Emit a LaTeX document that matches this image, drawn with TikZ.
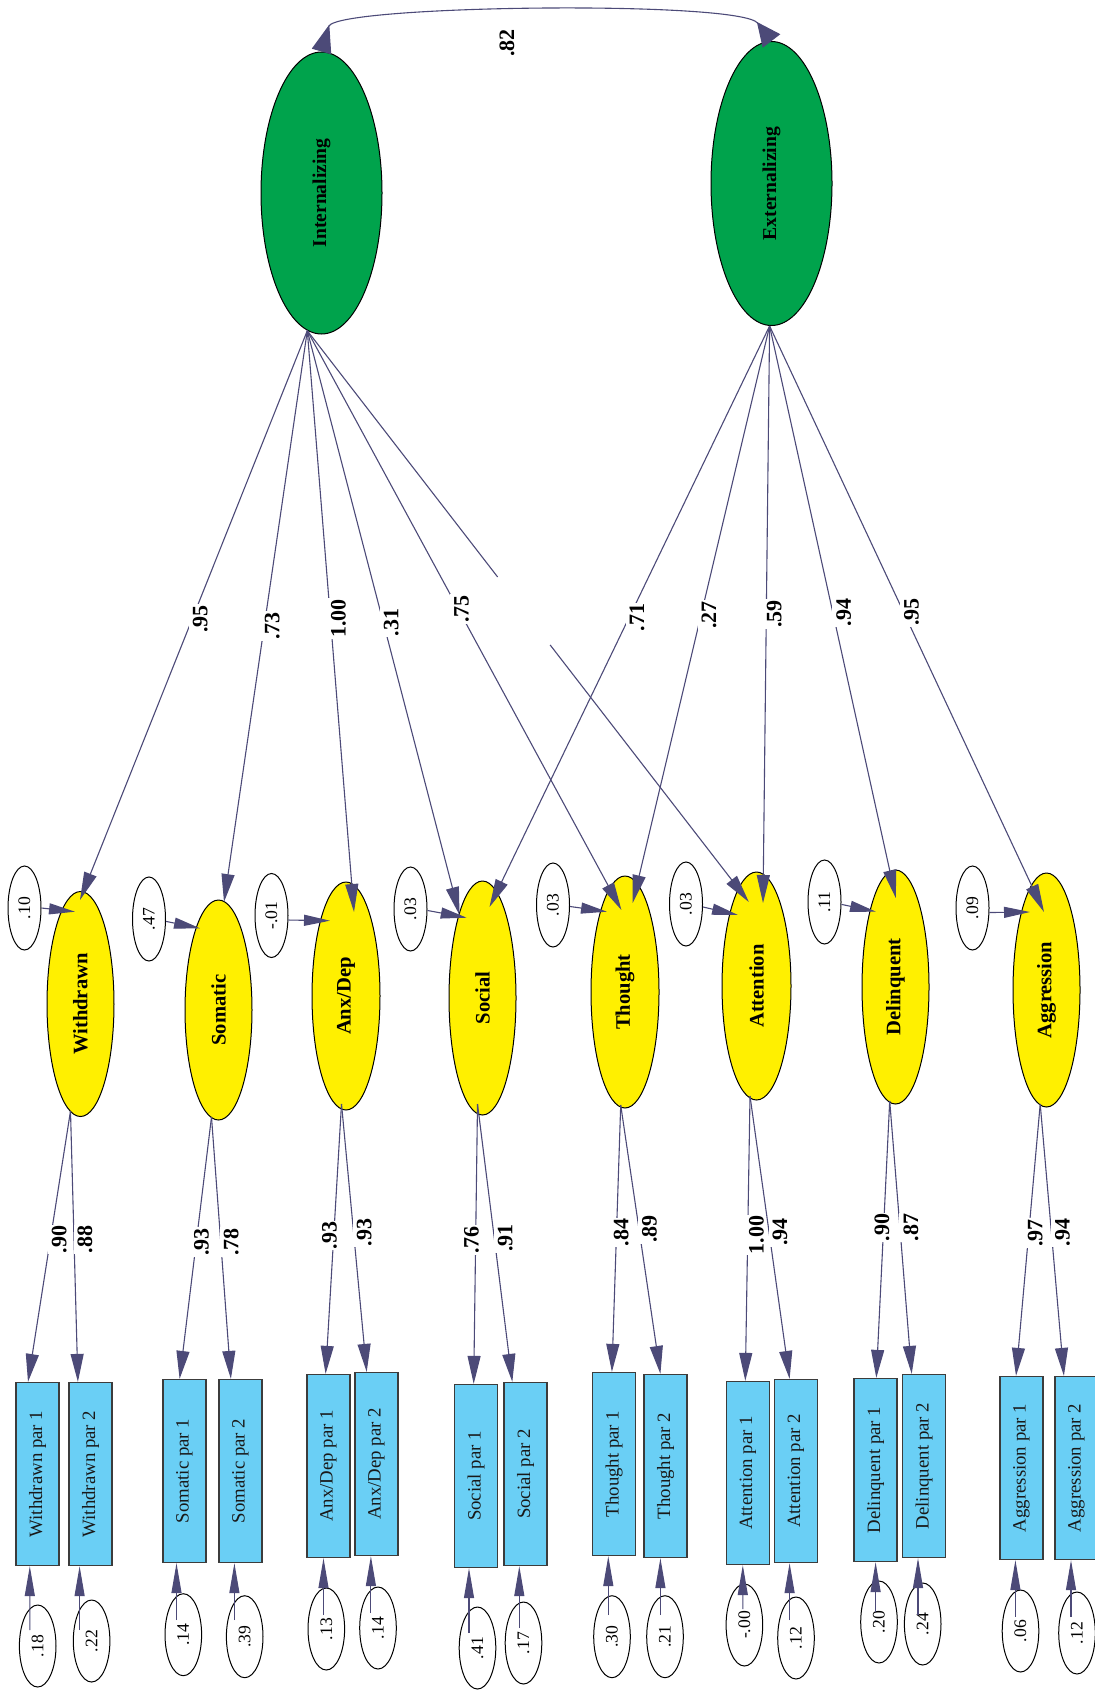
\documentclass[tikz,border=0pt]{standalone}
\usepackage{fontspec}
\setmainfont{Liberation Serif}
\usepackage{graphicx}
\usetikzlibrary{arrows.meta,calc,shapes.geometric}
\definecolor{grn}{RGB}{0,163,76}
\definecolor{yel}{RGB}{255,240,0}
\definecolor{cyn}{RGB}{106,207,245}
\definecolor{arrC}{RGB}{76,74,120}
\definecolor{boxC}{RGB}{60,60,60}
\newcommand{\vt}[1]{\rotatebox{90}{#1}}
\begin{document}
\begin{tikzpicture}[x=0.5pt,y=-0.5pt,
  line/.style={draw=arrC, line width=0.55pt},
  arr/.style={line, -{Triangle[length=14pt,width=6.5pt]}},
  harr/.style={line, -{Triangle[length=13pt,width=5.5pt]}},
  barr/.style={line, -{Triangle[length=15pt,width=5pt]}},
  covtip/.style={line, {Triangle[reversed,length=14pt,width=10pt]}-{Triangle[reversed,length=12pt,width=11pt]}},
  second/.style={ellipse, draw=black, line width=0.5pt, fill=grn, minimum width=60.5pt, inner sep=0pt, font=\fontsize{9.8}{10}\selectfont\bfseries},
  first/.style={ellipse, draw=black, line width=0.5pt, fill=yel, minimum width=33.5pt, inner sep=0pt, font=\fontsize{10.3}{11}\selectfont\bfseries},
  err/.style={ellipse, draw=black, line width=0.5pt, fill=white, minimum width=16.5pt, minimum height=42pt, inner sep=0pt, font=\fontsize{8.8}{9}\selectfont},
  berr/.style={err, minimum width=18.3pt, minimum height=41pt},
  obs/.style={rectangle, draw=boxC, line width=0.6pt, fill=cyn, minimum width=21.5pt, minimum height=91.5pt, inner sep=0pt, font=\fontsize{9.4}{10}\selectfont, text=black!90},
  lbl/.style={fill=white, inner xsep=2pt, inner ysep=0.5pt, anchor=west, xshift=#1, font=\fontsize{11}{11}\selectfont\bfseries},
  lbl/.default=-2pt,
]
\useasboundingbox (0,0) rectangle (1095,1690);

% second-order factors
\node[second, minimum height=141pt] (int) at (321.5,193) {\vt{Internalizing}};
\node[second, minimum height=142pt] (ext) at (771.5,183.5) {\vt{Externalizing}};

% first-order factors
\node[first, minimum height=112.5pt] (wd) at (80.5,1004) {\vt{Withdrawn}};
\node[first, minimum height=110pt] (som) at (218.5,1010) {\vt{Somatic}};
\node[first, minimum height=114pt, minimum width=34pt] (anx) at (346,996) {\vt{Anx/Dep}};
\node[first, minimum height=117pt] (soc) at (482.5,998) {\vt{Social}};
\node[first, minimum height=116pt, minimum width=34pt] (th) at (625,992) {\vt{Thought}};
\node[first, minimum height=114pt, minimum width=34.5pt] (att) at (756.5,986) {\vt{Attention}};
\node[first, minimum height=117pt] (del) at (895.5,987) {\vt{Delinquent}};
\node[first, minimum height=117pt] (agg) at (1046.5,990) {\vt{Aggression}};

% disturbances
\node[err] (d1) at (24.5,908) {\vt{.10}};
\node[err] (d2) at (149,919) {\vt{.47}};
\node[err] (d3) at (271.5,915.5) {\vt{-.01}};
\node[err] (d4) at (410.5,909) {\vt{.03}};
\node[err] (d5) at (553,905) {\vt{.03}};
\node[err] (d6) at (686,904) {\vt{.03}};
\node[err] (d7) at (824.5,902) {\vt{.11}};
\node[err] (d8) at (972.5,908) {\vt{.09}};

% observed indicators
\node[obs] (wd1) at (37.5,1474) {\vt{Withdrawn par 1}};
\node[obs] (wd2) at (90.5,1474) {\vt{Withdrawn par 2}};
\node[obs] (som1) at (184.5,1471) {\vt{Somatic par 1}};
\node[obs] (som2) at (240.5,1471) {\vt{Somatic par 2}};
\node[obs] (anx1) at (328.5,1466) {\vt{Anx/Dep par 1}};
\node[obs] (anx2) at (376.5,1464) {\vt{Anx/Dep par 2}};
\node[obs] (soc1) at (476,1476) {\vt{Social par 1}};
\node[obs] (soc2) at (525.5,1474) {\vt{Social par 2}};
\node[obs] (th1) at (614,1464) {\vt{Thought par 1}};
\node[obs] (th2) at (665.5,1466) {\vt{Thought par 2}};
\node[obs] (att1) at (748,1473) {\vt{Attention par 1}};
\node[obs] (att2) at (796,1471) {\vt{Attention par 2}};
\node[obs] (del1) at (875.5,1470) {\vt{Delinquent par 1}};
\node[obs] (del2) at (924,1466) {\vt{Delinquent par 2}};
\node[obs] (agg1) at (1021.5,1468) {\vt{Aggression par 1}};
\node[obs] (agg2) at (1076.5,1468) {\vt{Aggression par 2}};

% measurement errors
\node[berr] (b1) at (37.7,1646) {\vt{.18}};
\node[berr] (b2) at (91.6,1641) {\vt{.22}};
\node[berr] (b3) at (183.3,1634.7) {\vt{.14}};
\node[berr] (b4) at (244.7,1636.7) {\vt{.39}};
\node[berr] (b5) at (326.3,1629) {\vt{.13}};
\node[berr] (b6) at (378,1628) {\vt{.14}};
\node[berr] (b7) at (477.5,1648) {\vt{.41}};
\node[berr] (b8) at (523.5,1643) {\vt{.17}};
\node[berr] (b9) at (612,1636.7) {\vt{.30}};
\node[berr] (b10) at (665,1636.7) {\vt{.21}};
\node[berr] (b11) at (744.4,1625) {\vt{-.00}};
\node[berr] (b12) at (796,1638) {\vt{.12}};
\node[berr] (b13) at (879,1622) {\vt{.20}};
\node[berr] (b14) at (922.7,1624) {\vt{.24}};
\node[berr] (b15) at (1020.5,1631) {\vt{.06}};
\node[berr] (b16) at (1077,1633) {\vt{.12}};

% covariance
\draw[covtip] (int.north) .. controls (335,5) and (740,0) .. (ext.north);
\node[font=\fontsize{11}{11}\selectfont\bfseries] (c82) at (507,43) {\vt{.82}};

% second-order loadings
\coordinate (is) at ($(int)+(-14.2,137.7)$);
\coordinate (es) at ($(ext)+(-1.9,142.5)$);
\coordinate (t-wd) at ($(wd)+(-0.5,-104)$);
\coordinate (t-som) at ($(som)+(5.5,-108)$);
\coordinate (t-anx) at ($(anx)+(8,-84)$);
\coordinate (t-soci) at ($(soc)+(-23,-83)$);
\coordinate (t-soce) at ($(soc)+(7,-91)$);
\coordinate (t-thi) at ($(th)+(-3.6,-82)$);
\coordinate (t-the) at ($(th)+(7.7,-89)$);
\coordinate (t-atti) at ($(att)+(-7.7,-84)$);
\coordinate (t-atte) at ($(att)+(6.5,-83)$);
\coordinate (t-del) at ($(del)+(0.3,-89)$);
\coordinate (t-agg) at ($(agg)+(-2.5,-78)$);

\draw[arr] (is) -- node[lbl,pos=0.506]{\vt{.95}} (t-wd);
\draw[arr] (is) -- node[lbl,pos=0.517]{\vt{.73}} (t-som);
\draw[arr] (is) -- node[lbl,pos=0.495]{\vt{1.00}} (t-anx);
\draw[arr] (is) -- node[lbl,pos=0.499]{\vt{.31}} (t-soci);
\draw[arr] (is) -- node[lbl=-4.2pt,pos=0.480]{\vt{.75}} (t-thi);
\draw[line] (is) -- ($(is)!0.431!(t-atti)$);
\draw[arr] ($(is)!0.550!(t-atti)$) -- (t-atti);
\draw[arr] (es) -- node[lbl,pos=0.502]{\vt{.71}} (t-soce);
\draw[arr] (es) -- node[lbl,pos=0.501]{\vt{.27}} (t-the);
\draw[arr] (es) -- node[lbl,pos=0.499]{\vt{.59}} (t-atte);
\draw[arr] (es) -- node[lbl=-0.5pt,pos=0.501]{\vt{.94}} (t-del);
\draw[arr] (es) -- node[lbl,pos=0.488]{\vt{.95}} (t-agg);

% disturbance arrows
\draw[harr] (d1.east) -- ($(wd)+(-5.5,-92.3)$);
\draw[harr] (d2.-8) -- ($(som)+(-18.5,-81.7)$);
\draw[harr] (d3.-15) -- ($(anx)+(-16,-75.3)$);
\draw[harr] (d4.-5) -- ($(soc)+(-15.8,-80.3)$);
\draw[harr] (d5.-5) -- ($(th)+(-18,-80.3)$);
\draw[harr] (d6.-10) -- ($(att)+(-18.5,-71)$);
\draw[harr] (d7.-8) -- ($(del)+(-19.5,-75.3)$);
\draw[harr] (d8.-15) -- ($(agg)+(-16.5,-78)$);

% first-order loadings
\coordinate (wd-s) at ($(wd)+(-10,107)$);
\coordinate (som-s) at ($(som)+(-7,107)$);
\coordinate (anx-s) at ($(anx)+(-4.5,108)$);
\coordinate (soc-s) at ($(soc)+(-5,106)$);
\coordinate (th-s) at ($(th)+(-4.3,113)$);
\coordinate (att-s) at ($(att)+(-6.5,110)$);
\coordinate (del-s) at ($(del)+(-5.8,114)$);
\coordinate (agg-s) at ($(agg)+(-6.3,114)$);

\draw[arr] (wd-s) -- node[lbl=-1.5pt,pos=0.475]{\vt{.90}} ($(wd1.north)+(-9.5,0)$);
\draw[arr] (wd-s) -- node[lbl=-0.5pt,pos=0.475]{\vt{.88}} ($(wd2.north)+(-12.6,0)$);
\draw[arr] (som-s) -- node[lbl=-3.4pt,pos=0.477]{\vt{.93}} ($(som1.north)+(-4.9,0)$);
\draw[arr] (som-s) -- node[lbl=-0.8pt,pos=0.477]{\vt{.78}} ($(som2.north)+(-9.6,0)$);
\draw[arr] (anx-s) -- node[lbl=-8.1pt,pos=0.487]{\vt{.93}} ($(anx1.north)+(-2.9,0)$);
\draw[arr] (anx-s) -- node[lbl=-0.6pt,pos=0.479]{\vt{.93}} ($(anx2.north)+(-9.8,0)$);
\draw[arr] (soc-s) -- node[lbl=-8.1pt,pos=0.485]{\vt{.76}} ($(soc1.north)+(-2.3,0)$);
\draw[arr] (soc-s) -- node[lbl=-0.5pt,pos=0.482]{\vt{.91}} ($(soc2.north)+(-13.2,0)$);
\draw[arr] (th-s) -- node[lbl=-3.7pt,pos=0.477]{\vt{.84}} ($(th1.north)+(-2.1,0)$);
\draw[arr] (th-s) -- node[lbl=-0.8pt,pos=0.461]{\vt{.89}} ($(th2.north)+(-5.1,0)$);
\draw[arr] (att-s) -- node[lbl=-1.6pt,pos=0.487]{\vt{1.00}} ($(att1.north)+(-2.7,0)$);
\draw[arr] (att-s) -- node[lbl=-0.5pt,pos=0.481]{\vt{.94}} ($(att2.north)+(-6.4,0)$);
\draw[arr] (del-s) -- node[lbl=-6.8pt,pos=0.456]{\vt{.90}} ($(del1.north)+(0.8,0)$);
\draw[arr] (del-s) -- node[lbl=-0.5pt,pos=0.463]{\vt{.87}} ($(del2.north)+(-12.3,0)$);
\draw[arr] (agg-s) -- node[lbl=-2.7pt,pos=0.475]{\vt{.97}} ($(agg1.north)+(-5.5,0)$);
\draw[arr] (agg-s) -- node[lbl=-0.5pt,pos=0.472]{\vt{.94}} ($(agg2.north)+(-12.6,0)$);

% error arrows
\draw[barr] ($(b1)+(-7.9,-16)$) -- ($(wd1.south)+(-7.7,0)$);
\draw[barr] ($(b2)+(-12,-11)$) -- ($(wd2.south)+(-10.9,0)$);
\draw[barr] ($(b3)+(-6.8,-14.7)$) -- ($(som1.south)+(-8,0)$);
\draw[barr] ($(b4)+(-10.3,-16.7)$) -- ($(som2.south)+(-6.1,0)$);
\draw[barr] ($(b5)+(-2.8,-14)$) -- ($(anx1.south)+(-5,0)$);
\draw[barr] ($(b6)+(-7.1,-15)$) -- ($(anx2.south)+(-5.6,0)$);
\draw[barr] ($(b7)+(-8.5,-15)$) -- ($(soc1.south)+(-7,0)$);
\draw[barr] ($(b8)+(-4.2,-15)$) -- ($(soc2.south)+(-6.2,0)$);
\draw[barr] ($(b9)+(-3.7,-21.7)$) -- ($(th1.south)+(-5.7,0)$);
\draw[barr] ($(b10)+(-4.6,-21.7)$) -- ($(th2.south)+(-5.1,0)$);
\draw[barr] ($(b11)+(-1.6,-16)$) -- ($(att1.south)+(-5.2,0)$);
\draw[barr] ($(b12)+(-6.4,-18)$) -- ($(att2.south)+(-6.4,0)$);
\draw[barr] ($(b13)+(-3.4,-10.3)$) -- ($(del1.south)+(0.1,0)$);
\draw[barr] ($(b14)+(-4.7,-9)$) -- ($(del2.south)+(-6,0)$);
\draw[barr] ($(b15)+(-5.1,-14.3)$) -- ($(agg1.south)+(-6.1,0)$);
\draw[barr] ($(b16)+(-6,-16.3)$) -- ($(agg2.south)+(-5.5,0)$);
\end{tikzpicture}
\end{document}
